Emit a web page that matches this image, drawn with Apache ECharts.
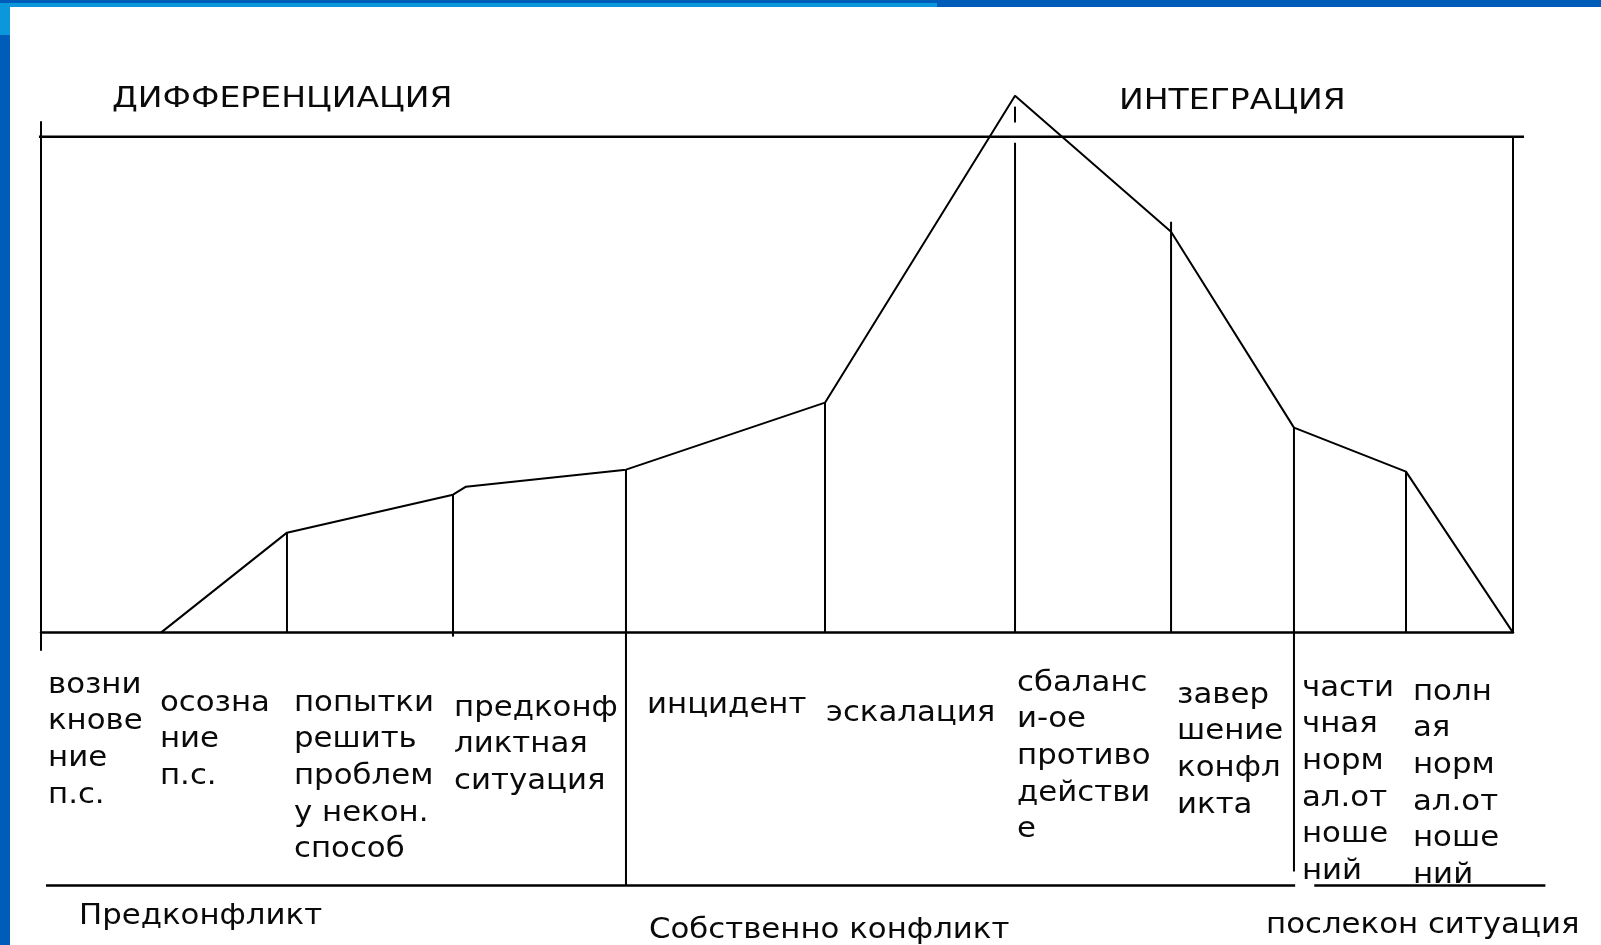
<!DOCTYPE html>
<html lang="ru">
<head>
  <meta charset="utf-8">
</head>
<body style="margin: 0; background: #fff">
  <div id="container" style="width: 1601px; height: 945px"></div>
  <script type="text/javascript" src="https://cdn.jsdelivr.net/npm/echarts@6/dist/echarts.min.js"></script>
  <script type="text/javascript">
// conflict curve (x: course of time, 0..100; y: tension, top rule = 100)
var curveX = [8.15, 16.71, 27.99, 28.87, 39.74, 53.26, 66.17, 76.77, 85.12, 92.73, 100];
var curveY = [0, 20.17, 27.83, 29.45, 32.88, 46.39, 108.3, 80.88, 41.35, 32.47, 0];

// vertical dividers between stages
var divX = [16.71, 27.99, 39.74, 53.26, 66.17, 66.17, 76.77, 85.12, 92.73, 100];
var divTop = [20.17, 27.83, 32.88, 46.39, 98.8, 106.1, 82.9, 41.35, 32.47, 100];
var divBottom = [0, -0.8, -51, 0, 0, 102.9, 0, -48.2, 0, 0];

// horizontal rules: top level and the phase line under the labels
var ruleX1 = [-0.14, 0.34, 86.5];
var ruleX2 = [100.75, 85.2, 102.2];
var ruleY = [100, -51, -51];

var stageNames = [
  'возни\nкнове\nние\nп.с.',
  'осозна\nние\nп.с.',
  'попытки\nрешить\nпроблем\nу некон.\nспособ',
  'предконф\nликтная\nситуация',
  'инцидент',
  'эскалация',
  'сбаланс\nи-ое\nпротиво\nдействи\nе',
  'завер\nшение\nконфл\nикта',
  'части\nчная\nнорм\nал.от\nноше\nний',
  'полн\nая\nнорм\nал.от\nноше\nний'
];
var stageStart = [0, 8.15, 16.71, 27.99, 39.74, 53.26, 66.17, 76.77, 85.12, 92.73];
var phaseNames = ['Предконфликт', 'Собственно конфликт', 'послекон ситуация'];
var topNames = ['ДИФФЕРЕНЦИАЦИЯ', 'ИНТЕГРАЦИЯ'];

var dom = document.getElementById('container');
var myChart = echarts.init(dom, null, { renderer: 'canvas' });

var FONT = '"DejaVu Sans", Verdana, sans-serif';
var INK = '#0a0a0a';

var curveData = curveX.map(function (x, i) { return [x, curveY[i]]; });
var divData = divX.map(function (x, i) { return [x, divTop[i], divBottom[i]]; });
var ruleData = ruleY.map(function (y, i) { return [ruleX1[i], y, ruleX2[i], y]; });

var option = {
  backgroundColor: '#fff',
  animation: false,
  grid: { left: 41, right: 88, top: 122, bottom: 295 },
  xAxis: {
    type: 'value',
    min: 0,
    max: 100,
    axisLine: { onZero: true, lineStyle: { color: '#000', width: 2.5 } },
    axisTick: { show: false },
    axisLabel: { show: false },
    splitLine: { show: false }
  },
  yAxis: {
    type: 'value',
    min: -3.5,
    max: 103,
    axisLine: { show: true, onZero: true, lineStyle: { color: '#000', width: 2 } },
    axisTick: { show: false },
    axisLabel: { show: false },
    splitLine: { show: false }
  },
  series: [
    {
      name: 'curve',
      type: 'line',
      data: curveData,
      symbol: 'none',
      clip: false,
      lineStyle: { color: '#000', width: 2 },
      z: 3
    },
    {
      name: 'dividers',
      type: 'custom',
      data: divData,
      clip: false,
      encode: { x: 0, y: [1, 2] },
      renderItem: function (params, api) {
        var a = api.coord([api.value(0), api.value(1)]);
        var b = api.coord([api.value(0), api.value(2)]);
        return {
          type: 'line',
          shape: { x1: a[0], y1: a[1], x2: b[0], y2: b[1] },
          style: { stroke: '#000', lineWidth: 2 }
        };
      }
    },
    {
      name: 'rules',
      type: 'custom',
      data: ruleData,
      clip: false,
      encode: { x: [0, 2], y: [1, 3] },
      renderItem: function (params, api) {
        var a = api.coord([api.value(0), api.value(1)]);
        var b = api.coord([api.value(2), api.value(3)]);
        return {
          type: 'line',
          shape: { x1: a[0], y1: a[1], x2: b[0], y2: b[1] },
          style: { stroke: '#000', lineWidth: 2.5 }
        };
      }
    }
  ]
};

myChart.setOption(option);

// text placement (the original font is wide, so the text is stretched a bit)
var stageDx = [7, -1, 7, 1, 21, 1, 2, 6, 8, 7];
var stageTopPx = [667, 685, 685, 690, 687, 695, 665, 677, 670, 674];
var phaseXPx = [79, 649, 1266];
var phaseYPx = [917, 931, 926];
var topXPx = [112, 1119];
var topYPx = [99, 101];

var graphics = [
  // slide frame in blue
  { type: 'rect', shape: { x: 0, y: 0, width: 1601, height: 7 }, style: { fill: '#005cb9' }, silent: true },
  { type: 'rect', shape: { x: 0, y: 3, width: 937, height: 4 }, style: { fill: '#0a97db' }, silent: true },
  { type: 'rect', shape: { x: 0, y: 0, width: 10, height: 945 }, style: { fill: '#005cb9' }, silent: true },
  { type: 'rect', shape: { x: 0, y: 3, width: 10, height: 32 }, style: { fill: '#0a97db' }, silent: true }
];

stageNames.forEach(function (name, i) {
  var px = myChart.convertToPixel({ gridIndex: 0 }, [stageStart[i], 0]);
  graphics.push({
    type: 'text',
    x: px[0] + stageDx[i],
    y: stageTopPx[i],
    scaleX: 1.1,
    silent: true,
    style: {
      text: name,
      fill: INK,
      font: '28px ' + FONT,
      lineHeight: 36.7,
      verticalAlign: 'top',
      align: 'left'
    }
  });
});

phaseNames.forEach(function (name, i) {
  graphics.push({
    type: 'text',
    x: phaseXPx[i],
    y: phaseYPx[i],
    scaleX: 1.1,
    silent: true,
    style: { text: name, fill: INK, font: '28px ' + FONT, verticalAlign: 'middle', align: 'left' }
  });
});

topNames.forEach(function (name, i) {
  graphics.push({
    type: 'text',
    x: topXPx[i],
    y: topYPx[i],
    scaleX: 1.14,
    silent: true,
    style: { text: name, fill: INK, font: '29px ' + FONT, verticalAlign: 'middle', align: 'left' }
  });
});

myChart.setOption({ graphic: graphics });
  </script>
</body>
</html>
